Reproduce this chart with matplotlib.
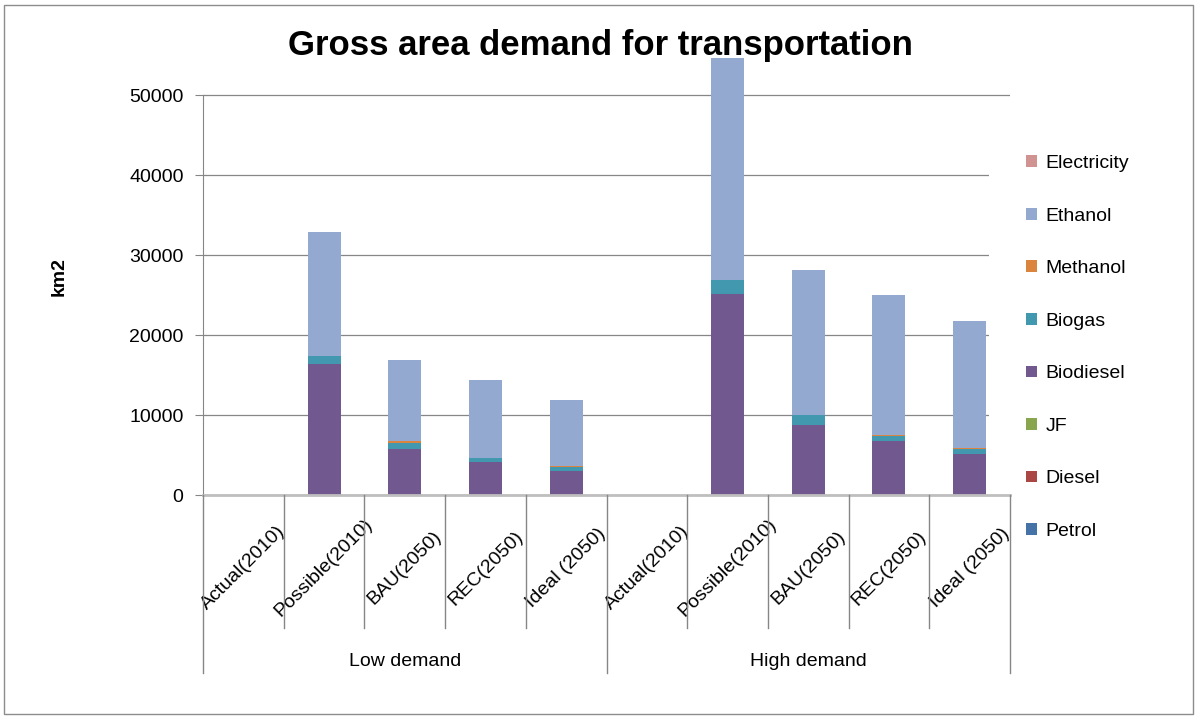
import matplotlib.pyplot as plt
from matplotlib.patches import Patch, Rectangle
import numpy as np

##### chart data (km2)
groups = ['Low demand', 'High demand']
scenarios = ['Actual(2010)', 'Possible(2010)', 'BAU(2050)', 'REC(2050)', 'Ideal (2050)']
fuels = ['Petrol', 'Diesel', 'JF', 'Biodiesel', 'Biogas', 'Methanol', 'Ethanol', 'Electricity']
colours = ['#4572A7', '#AA4643', '#89A54E', '#71588F', '#4198AF', '#DB843D', '#93A9CF', '#D19392']

petrol = [0, 0, 0, 0, 0, 0, 0, 0, 0, 0]
diesel = [0, 0, 0, 0, 0, 0, 0, 0, 0, 0]
jf = [0, 0, 0, 0, 0, 0, 0, 0, 0, 0]
biodiesel = [0, 16400, 5750, 4100, 3000, 0, 25100, 8750, 6750, 5100]
biogas = [0, 1000, 750, 500, 500, 0, 1800, 1250, 650, 650]
methanol = [0, 0, 250, 0, 150, 0, 0, 0, 100, 150]
ethanol = [0, 15500, 10150, 9800, 8250, 0, 27700, 18100, 17500, 15850]
electricity = [0, 0, 0, 0, 0, 0, 0, 0, 0, 0]
series = [petrol, diesel, jf, biodiesel, biogas, methanol, ethanol, electricity]

font = 'Liberation Sans'
plt.rcParams['font.family'] = [font, 'DejaVu Sans']

W, H = 1195, 718
fig = plt.figure(figsize=(W / 100, H / 100), dpi=100)

# plot area in pixels: x 203..1010, y(0)=495, 8 px per 1000 km2
ymax = 54700
ax_left, ax_right, ax_bottom = 203, 1010, 495
ax_top = ax_bottom - ymax * 0.008
ax = fig.add_axes([ax_left / W, 1 - ax_bottom / H, (ax_right - ax_left) / W, (ax_bottom - ax_top) / H])

ncat = len(groups) * len(scenarios)
x = np.arange(ncat)
bottom = np.zeros(ncat)
for name, vals, col in zip(fuels, series, colours):
    ax.bar(x, vals, 0.41, bottom=bottom, color=col, label=name, zorder=1, clip_on=False)
    bottom += np.array(vals)

ax.set_xlim(-0.5, ncat - 0.5)
ax.set_ylim(0, ymax)
ax.set_yticks(np.arange(0, 50001, 10000))
ax.tick_params(axis='y', labelsize=14, length=6, color='#868686', pad=8)
ax.tick_params(axis='x', bottom=False, labelbottom=False)
ax.grid(axis='y', color='#868686', lw=0.9)
ax.set_axisbelow(True)

for s in ['top', 'right']:
    ax.spines[s].set_visible(False)
ax.spines['left'].set_color('#868686')
ax.spines['left'].set_bounds(0, 50000)
ax.spines['bottom'].set_color('#bfbfbf')
ax.spines['bottom'].set_linewidth(2)

ax.set_ylabel('km2', fontsize=14, fontweight='bold', labelpad=44)

# category labels and separators under the axis
trans = ax.get_xaxis_transform()
axh = ax_bottom - ax_top
inner_end = -(628 - ax_bottom) / axh
group_end = -(673 - ax_bottom) / axh
label_y = -(568 - ax_bottom) / axh
group_y = -(662 - ax_bottom) / axh
for i in range(ncat):
    ax.text(x[i], label_y, scenarios[i % len(scenarios)], transform=trans, rotation=45,
            ha='center', va='center', fontsize=14, rotation_mode='anchor')
for b in range(ncat + 1):
    end = group_end if b % len(scenarios) == 0 else inner_end
    ax.plot([b - 0.5, b - 0.5], [0, end], transform=trans, color='#868686', lw=1,
            clip_on=False, zorder=3)
for g, name in enumerate(groups):
    ax.text(g * len(scenarios) + (len(scenarios) - 1) / 2, group_y, name, transform=trans,
            ha='center', va='center', fontsize=14)

# legend, top entry first
handles = [Patch(facecolor=c, edgecolor='none') for c in colours][::-1]
leg = ax.legend(handles, fuels[::-1], loc='upper left', bbox_to_anchor=(989 / W, 1 - 118 / H),
                bbox_transform=fig.transFigure, frameon=True, fontsize=14,
                handlelength=0.55, handleheight=0.55, handletextpad=0.45,
                labelspacing=1.83, borderpad=1.9, borderaxespad=0, fancybox=False)
leg.get_frame().set_facecolor('white')
leg.get_frame().set_edgecolor('none')
leg.get_frame().set_alpha(1)
leg.set_zorder(2)

fig.text(600 / W, 1 - 45 / H, 'Gross area demand for transportation', ha='center', va='center',
         fontsize=25, fontweight='bold')

# chart border
fig.patches.append(Rectangle((4 / W, 1 - 714 / H), 1189 / W, 709 / H, transform=fig.transFigure,
                             fill=False, edgecolor='#8c8c8c', lw=1))

plt.savefig('out.png', dpi=100)
